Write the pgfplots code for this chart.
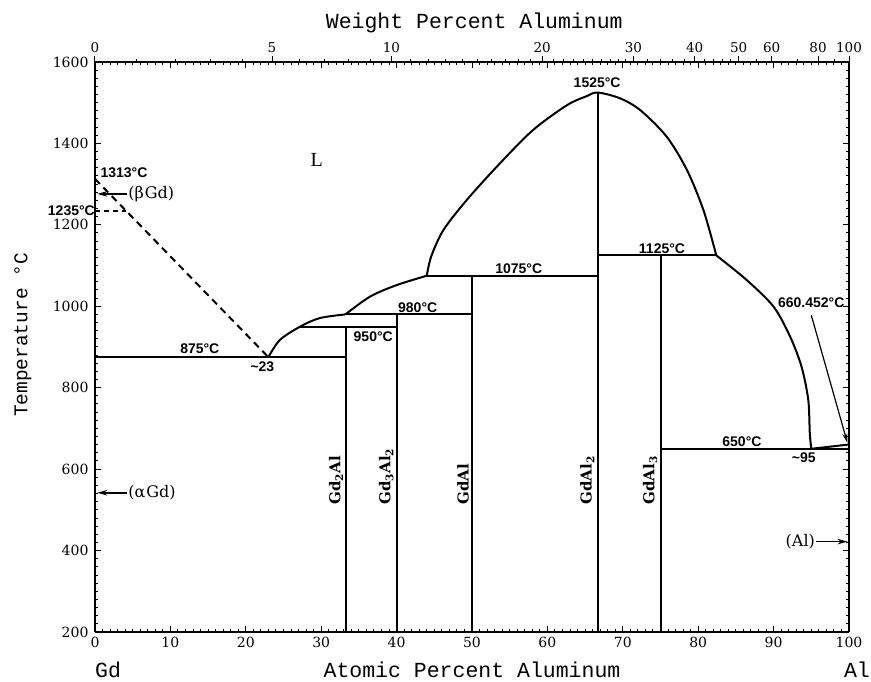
\documentclass[border=0pt]{standalone}
\usepackage{fontspec}
\setmainfont{DejaVu Serif}
\newfontfamily\labfont{Liberation Mono}
\newfontfamily\annfont{Liberation Sans}
\newfontfamily\romfont{Liberation Serif}
\usepackage{pgfplots}
\pgfplotsset{compat=1.18}
\usetikzlibrary{arrows.meta}

\tikzset{
  ann/.style={font=\annfont\bfseries\fontsize{14}{14}\selectfont, inner sep=0pt},
  cmp/.style={font=\bfseries\fontsize{15}{15}\selectfont, rotate=90, anchor=south west, inner sep=3pt},
  phase/.style={font=\fontsize{16}{16}\selectfont, inner sep=0pt},
  lab/.style={font=\labfont\fontsize{21.5}{21.5}\selectfont, inner sep=0pt},
  arr/.style={line width=1.6pt, -{Stealth[length=10pt,width=5.5pt]}},
  pl/.style={black, line width=2pt, mark=none},
}

\begin{document}
\begin{tikzpicture}[x=1pt,y=1pt]
\useasboundingbox (-95,-49) rectangle (776,632);

% weight percent scale along the top
\begin{axis}[
  at={(0,0)}, anchor=south west,
  scale only axis, width=754pt, height=570pt,
  xmin=0, xmax=100, ymin=0, ymax=1,
  axis x line*=top, axis y line=none,
  xtick={0,23.475,39.306,59.301,71.41,79.53,85.36,89.74,95.89,100},
  xticklabels={0,5,10,20,30,40,50,60,80,100},
  minor xtick={5.560,10.630,15.273,19.540,27.115,30.493,33.635,36.566,41.873,44.283,46.550,48.687,50.704,52.611,54.416,56.129,57.755,60.77,62.18,63.52,64.80,66.02,67.19,68.31,69.39,70.42,73.28,75.01,76.63,78.13,80.85,82.08,83.23,84.33,87.69,93.15,98.13},
  xtick align=outside, major tick length=6pt, minor tick length=3pt,
  every tick/.style={black, line width=1pt},
  axis line style={line width=1.3pt},
  ticklabel style={font=\fontsize{13.5}{13.5}\selectfont},
  /pgf/number format/assume math mode=true,
]
\end{axis}

\begin{axis}[
  at={(0,0)}, anchor=south west,
  scale only axis, width=754pt, height=570pt,
  xmin=0, xmax=100, ymin=200, ymax=1600,
  xtick={0,10,...,100}, minor x tick num=9,
  ytick={200,400,...,1600}, minor y tick num=9,
  xticklabel pos=bottom, yticklabel pos=left,
  tick align=inside, major tick length=6pt, minor tick length=3pt,
  every tick/.style={black, line width=1pt},
  separate axis lines, axis line style={line width=1.3pt},
  ticklabel style={font=\fontsize{14}{14}\selectfont},
  xticklabel style={yshift=-2pt}, yticklabel style={xshift=-3pt},
  /pgf/number format/assume math mode=true,
  /pgf/number format/1000 sep={},
  clip=false,
]
% invariant lines
\addplot[pl] coordinates {(0,875) (33.33,875)};
\addplot[pl] coordinates {(27.2,950) (40,950)};
\addplot[pl] coordinates {(33.2,980) (50,980)};
\addplot[pl] coordinates {(44,1075) (66.67,1075)};
\addplot[pl] coordinates {(66.67,1125) (82.4,1125)};
\addplot[pl] coordinates {(75,650) (100,650)};
\addplot[pl] coordinates {(95,650) (100,660.5)};
% compounds
\addplot[pl] coordinates {(33.33,200) (33.33,950)};
\addplot[pl] coordinates {(40,200) (40,980)};
\addplot[pl] coordinates {(50,200) (50,1075)};
\addplot[pl] coordinates {(66.67,200) (66.67,1525)};
\addplot[pl] coordinates {(75,200) (75,1125)};
% Gd side, dashed
\addplot[pl, dash pattern=on 7pt off 5pt] coordinates {(0,1313) (23,875)};
\addplot[pl, dash pattern=on 5pt off 4pt] coordinates {(0,1235) (4.1,1235)};
% liquidus
\addplot[pl, smooth, tension=0.5] coordinates {(23,875) (24.5,917) (27.2,950) (29.8,971) (33.2,980)};
\addplot[pl, smooth, tension=0.5] coordinates {(33.2,980) (36.5,1024) (40,1052) (44,1075)};
\addplot[pl, smooth, tension=0.5] coordinates {(44,1075) (44.6,1123) (46.2,1187) (49.3,1261) (53.7,1351) (58.1,1433) (62.6,1494) (65.2,1516) (66.67,1525) (69.6,1511) (72.3,1482) (75.8,1417) (78.5,1335) (80.7,1236) (82.4,1125)};
\addplot[pl, smooth, tension=0.5] coordinates {(82.4,1125) (86.4,1065) (90,999) (92.2,925) (93.7,852) (94.6,770) (94.8,688) (95,650)};

% labels
\node[ann] at (axis cs:66.6,1548) {1525°C};
\node[ann] at (axis cs:56.2,1093) {1075°C};
\node[ann] at (axis cs:75.2,1141) {1125°C};
\node[ann] at (axis cs:42.8,996) {980°C};
\node[ann] at (axis cs:36.9,925) {950°C};
\node[ann] at (axis cs:13.9,897) {875°C};
\node[ann] at (axis cs:22.2,851) {\textasciitilde 23};
\node[ann] at (axis cs:85.8,667) {650°C};
\node[ann] at (axis cs:94.0,627) {\textasciitilde 95};
\node[ann] at (axis cs:95.0,1008) {660.452°C};
\node[ann] at (axis cs:3.85,1327) {1313°C};
\node[ann, anchor=east] at (axis cs:0,1236) {1235°C};

\node[font=\romfont\fontsize{20}{20}\selectfont] at (axis cs:29.4,1359) {L};

\node[phase, anchor=west] at (axis cs:4.4,1276) {(β\kern1pt Gd)};
\draw[arr] (axis cs:4.3,1276) -- (axis cs:0.3,1276);
\node[phase, anchor=west] at (axis cs:4.4,542) {(α\kern1pt Gd)};
\draw[arr] (axis cs:4.3,542) -- (axis cs:0.3,542);
\node[phase, anchor=east] at (axis cs:95.5,422) {(Al)};
\draw[arr] (axis cs:95.6,422) -- (axis cs:99.8,422);
\draw[line width=1.2pt, -{Stealth[length=10pt,width=5pt]}] (axis cs:95.0,978) -- (axis cs:99.8,664);

\node[cmp] at (axis cs:33.33,505) {Gd\textsubscript{2}Al};
\node[cmp] at (axis cs:40,505) {Gd\textsubscript{3}Al\textsubscript{2}};
\node[cmp] at (axis cs:50,505) {GdAl};
\node[cmp] at (axis cs:66.67,505) {GdAl\textsubscript{2}};
\node[cmp] at (axis cs:75,505) {GdAl\textsubscript{3}};

% axis titles
\node[lab, anchor=base] at ([yshift=-45pt]axis description cs:0.5,0) {Atomic Percent Aluminum};
\node[lab, anchor=base west] at ([yshift=-45pt]axis description cs:0,0) {Gd};
\node[lab, anchor=base east] at ([yshift=-45pt, xshift=21pt]axis description cs:1,0) {Al};
\node[lab, anchor=base] at ([yshift=33pt]axis description cs:0.503,1) {Weight Percent Aluminum};
\node[lab, font=\labfont\fontsize{19.5}{19.5}\selectfont, rotate=90, anchor=center] at ([xshift=-72pt]axis description cs:0,0.521) {Temperature °C};
\end{axis}
\end{tikzpicture}
\end{document}
